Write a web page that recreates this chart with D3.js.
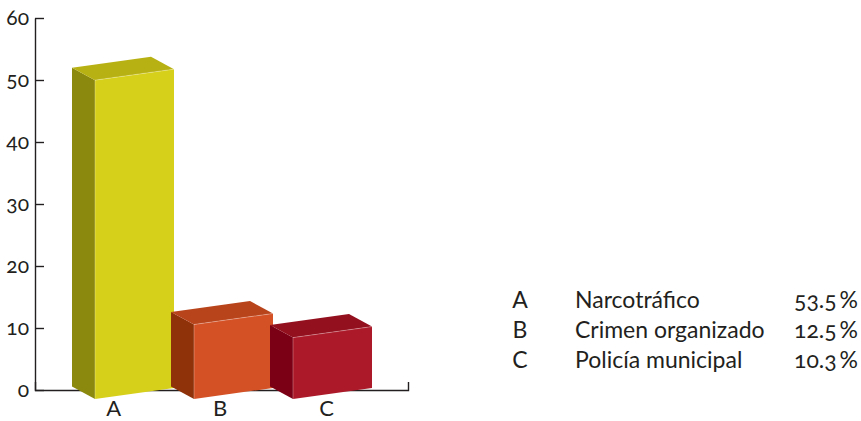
<!DOCTYPE html>
<html>
<head>
<meta charset="utf-8">
<script src="https://cdn.jsdelivr.net/npm/d3@7"></script>
<style>
  html, body { margin: 0; padding: 0; background: #fff; }
  svg { display: block; font-family: Lato, "Noto Sans", sans-serif; font-variant-numeric: oldstyle-nums; font-feature-settings: "onum" 1; }
</style>
</head>
<body>
<svg id="chart" width="861" height="421"></svg>
<script>
// ---- data ----
const categories = ["A", "B", "C"];
const names = ["Narcotráfico", "Crimen organizado", "Policía municipal"];
const values = [53.5, 12.5, 10.3];
const valueLabels = ["53.5\u2009%", "12.5\u2009%", "10.3\u2009%"];
const yTicks = [0, 10, 20, 30, 40, 50, 60];

// ---- styles ----
const frontColors = ["#d7d01a", "#d45126", "#ac1a29"];
const topColors   = ["#b8b113", "#b8441c", "#93101f"];
const sideColors  = ["#8b890e", "#8f3109", "#7c0015"];
const ink = "#231f20";

const svg = d3.select("#chart");

// scales
const y = d3.scaleLinear().domain([0, 60]).range([390, 18]);
const h = d3.scaleLinear().domain([0, 60]).range([0, 357.6]);
const xBar = d3.scalePoint().domain(categories).range([95, 293]);
const xLab = d3.scalePoint().domain(categories).range([113.7, 326.5]);
const xAxisScale = d3.scaleLinear().domain([0, 1]).range([35, 408]);

// y axis
const yAxis = svg.append("g")
  .attr("transform", "translate(35,0)")
  .call(d3.axisLeft(y).tickValues(yTicks).tickSize(-9).tickSizeOuter(0).tickPadding(6).tickFormat(d3.format("d")));
yAxis.selectAll("path, line").attr("stroke", ink).attr("stroke-width", 1.4);
yAxis.selectAll("text").attr("fill", ink).style("font-size", "21px").style("font-family", "Lato, 'Noto Sans', sans-serif");

// x axis
const xAxis = svg.append("g")
  .attr("transform", "translate(0,390)")
  .call(d3.axisBottom(xAxisScale).tickValues([]).tickSizeOuter(-8));
xAxis.selectAll("path").attr("stroke", ink).attr("stroke-width", 1.4);

// 3D bars
const W = 79, S = 11, DX = -23, DY = -12.5, YB = 399;
const bars = svg.append("g").selectAll("g").data(categories).join("g");
bars.each(function (c, i) {
  const g = d3.select(this);
  const x0 = xBar(c), hh = h(values[i]);
  const front = [[x0, YB], [x0 + W, YB - S], [x0 + W, YB - S - hh], [x0, YB - hh]];
  const side = [[x0, YB], [x0, YB - hh], [x0 + DX, YB - hh + DY], [x0 + DX, YB + DY]];
  const top = [[x0, YB - hh], [x0 + W, YB - S - hh], [x0 + W + DX, YB - S - hh + DY], [x0 + DX, YB - hh + DY]];
  const line = d3.line();
  g.append("path").attr("d", line(side) + "Z").attr("fill", sideColors[i]);
  g.append("path").attr("d", line(top) + "Z").attr("fill", topColors[i]);
  g.append("path").attr("d", line(front) + "Z").attr("fill", frontColors[i]);
  g.append("path").attr("d", line([front[0], front[3], front[2]]))
    .attr("fill", "none").attr("stroke", "#ffffff").attr("stroke-opacity", 0.35).attr("stroke-width", 0.8);
});

// category labels
svg.append("g").selectAll("text").data(categories).join("text")
  .attr("x", d => xLab(d)).attr("y", 416)
  .attr("text-anchor", "middle").attr("fill", ink)
  .style("font-size", "22px")
  .text(d => d);

// legend
const rowY = d3.scalePoint().domain(categories).range([308, 368]);
const leg = svg.append("g").selectAll("g").data(categories).join("g")
  .attr("transform", d => `translate(0,${rowY(d)})`);
leg.append("text").attr("x", 520).attr("text-anchor", "middle").attr("fill", ink)
  .style("font-size", "23px").text(d => d);
leg.append("text").attr("x", 575).attr("fill", ink)
  .style("font-size", "23px").text((d, i) => names[i]);
leg.append("text").attr("x", 858).attr("text-anchor", "end").attr("fill", ink)
  .style("font-size", "23px").text((d, i) => valueLabels[i]);
</script>
</body>
</html>
